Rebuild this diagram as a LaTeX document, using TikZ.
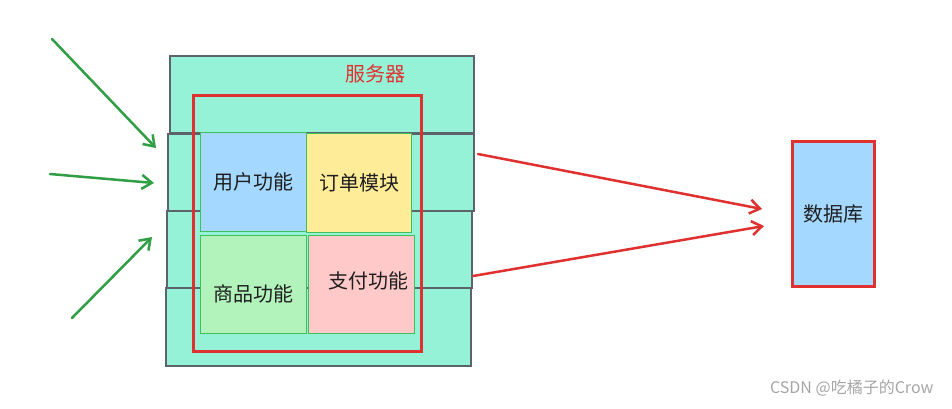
\documentclass[tikz,border=0pt]{standalone}
\usepackage{fontspec}
\setmainfont{Noto Sans CJK SC}
\usetikzlibrary{arrows.meta}
\definecolor{teal1}{HTML}{96F2D7}
\definecolor{blue1}{HTML}{A5D8FF}
\definecolor{yellow1}{HTML}{FFEC99}
\definecolor{green1}{HTML}{B2F2BB}
\definecolor{pink1}{HTML}{FFC9C9}
\definecolor{red1}{HTML}{E03131}
\definecolor{green2}{HTML}{2F9E44}
\definecolor{edge1}{HTML}{5C636A}
\definecolor{edge2}{HTML}{40C057}
\definecolor{text1}{HTML}{1E1E1E}
\tikzset{
  srv/.style={draw=edge1, fill=teal1, line width=1.3pt},
  mod/.style={draw=edge2, fill=#1, line width=1.3pt},
  lbl/.style={font=\fontsize{20}{22}\selectfont, text=text1},
  garrow/.style={draw=green2, line width=2.5pt, line cap=round, -{Straight Barb[length=10pt,width=14pt,line width=2.5pt]}},
  rarrow/.style={draw=red1, line width=2.5pt, line cap=round, -{Straight Barb[length=10pt,width=14pt,line width=2.5pt]}},
}
\begin{document}
\begin{tikzpicture}[x=1pt,y=-1pt]
\useasboundingbox[fill=white] (0,0) rectangle (952,408);
% server stack
\path[srv] (170,56) rectangle (474,133);
\path[srv] (168,134) rectangle (474,211);
\path[srv] (167,211) rectangle (472,288);
\path[srv] (166,288) rectangle (471,366);
% red frame
\draw[red1, line width=3pt] (193,95) rectangle (421,351);
\node[font=\fontsize{20}{22}\selectfont, text=red1] (srvlabel) at (375,74) {服务器};
% modules
\node[mod=blue1, minimum width=106pt, minimum height=99pt, anchor=north west] (user) at (200,132) {};
\node[lbl] at (user.center) {用户功能};
\node[mod=yellow1, minimum width=105pt, minimum height=99pt, anchor=north west] (order) at (306,133) {};
\node[lbl] at (order.center) {订单模块};
\node[mod=green1, minimum width=106pt, minimum height=98pt, anchor=north west] (goods) at (200,235) {};
\node[lbl] at ([yshift=-9pt]goods.center) {商品功能};
\node[mod=pink1, minimum width=106pt, minimum height=98pt, anchor=north west] (pay) at (308,235) {};
\node[lbl] at ([yshift=4pt,xshift=7pt]pay.center) {支付功能};
% database
\node[draw=red1, fill=blue1, line width=3pt, minimum width=82pt, minimum height=145pt, anchor=north west] (db) at (791,140) {};
\node[lbl] at (db.center) {数据库};
% coordinates for arrows
\coordinate (r1s) at (478,154);
\coordinate (r1e) at (762,209);
\coordinate (r2s) at (473,276);
\coordinate (r2e) at (764,226);
\coordinate (g1s) at (52,39);
\coordinate (g1e) at (156,148);
\coordinate (g2s) at (50,174);
\coordinate (g2e) at (154,183);
\coordinate (g3s) at (72,318);
\coordinate (g3e) at (152,237);
\draw[rarrow] (r1s) -- (r1e);
\draw[rarrow] (r2s) -- (r2e);
\draw[garrow] (g1s) -- (g1e);
\draw[garrow] (g2s) -- (g2e);
\draw[garrow] (g3s) -- (g3e);
% watermark
\node[font=\fontsize{16}{18}\selectfont, text=gray!70, anchor=east] (wm) at (937,388) {CSDN @吃橘子的Crow};
\end{tikzpicture}
\end{document}
